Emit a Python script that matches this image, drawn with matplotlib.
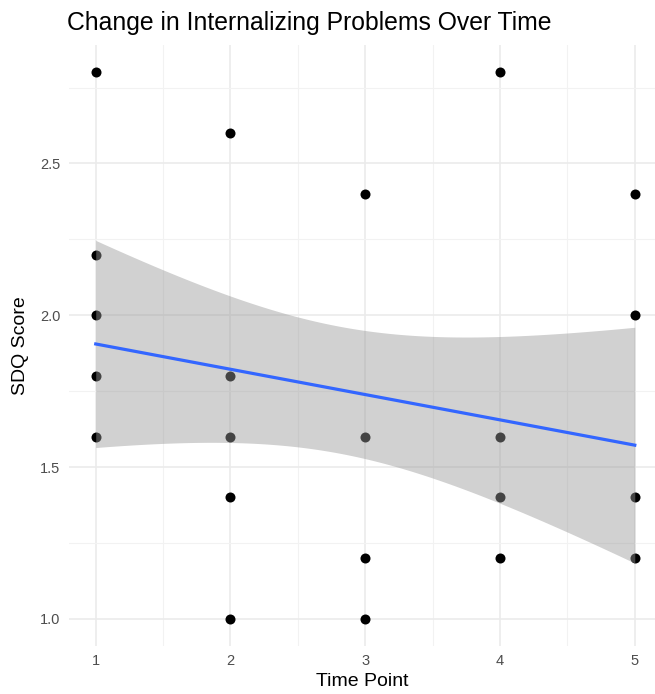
import numpy as np
import matplotlib.pyplot as plt
from matplotlib.ticker import MultipleLocator

plt.rcParams['font.family'] = ['Liberation Sans', 'DejaVu Sans']

# time point and SDQ score per observation (repeated values overlap in the plot)
time_point = [1, 1, 1, 1, 1, 1, 1,
              2, 2, 2, 2, 2, 2, 2, 2,
              3, 3, 3, 3, 3,
              4, 4, 4, 4, 4, 4,
              5, 5, 5, 5, 5]
sdq_score = [2.8, 2.8, 2.2, 2.0, 1.8, 1.6, 1.6,
             2.6, 2.6, 1.8, 1.6, 1.6, 1.4, 1.0, 1.0,
             2.4, 1.6, 1.2, 1.2, 1.0,
             2.8, 1.6, 1.4, 1.4, 1.2, 1.2,
             2.4, 2.0, 2.0, 1.4, 1.2]

x = np.array(time_point, dtype=float)
y = np.array(sdq_score)

# linear fit + 95% confidence band (like geom_smooth(method="lm"))
n = len(x)
slope, intercept = np.polyfit(x, y, 1)
resid = y - (intercept + slope * x)
s = np.sqrt(np.sum(resid ** 2) / (n - 2))
try:
    from scipy import stats
    tval = stats.t.ppf(0.975, n - 2)
except ImportError:
    tval = 2.045
xs = np.linspace(x.min(), x.max(), 100)
ys = intercept + slope * xs
se = s * np.sqrt(1 / n + (xs - x.mean()) ** 2 / np.sum((x - x.mean()) ** 2))

# identical points sit on top of each other; draw each position once
pts = np.unique(np.column_stack([x, y]), axis=0)

fig = plt.figure(figsize=(6.55, 6.94), dpi=100)
ax = fig.add_axes([0.105, 0.069, 0.895, 0.866])

ax.scatter(pts[:, 0], pts[:, 1], s=52, color='black', zorder=2, linewidths=0)
ax.fill_between(xs, ys - tval * se, ys + tval * se, color='#999999', alpha=0.45,
                linewidth=0, zorder=3)
ax.plot(xs, ys, color='#3366FF', linewidth=2.3, zorder=4)

ax.set_xlim(0.8, 5.15)
ax.set_ylim(0.91, 2.89)
ax.xaxis.set_major_locator(MultipleLocator(1))
ax.xaxis.set_minor_locator(MultipleLocator(0.5))
ax.yaxis.set_major_locator(MultipleLocator(0.5))
ax.yaxis.set_minor_locator(MultipleLocator(0.25))
ax.yaxis.set_major_formatter(plt.FormatStrFormatter('%.1f'))

ax.grid(which='major', color='#EBEBEB', linewidth=1.2, zorder=0)
ax.grid(which='minor', color='#F2F2F2', linewidth=0.8, zorder=0)
ax.set_axisbelow(True)
for sp in ax.spines.values():
    sp.set_visible(False)
ax.tick_params(which='both', length=0, labelsize=10.5, labelcolor='#4D4D4D', pad=6)

ax.set_xlabel('Time Point', fontsize=14, labelpad=3)
ax.set_ylabel('SDQ Score', fontsize=14, labelpad=8)
ax.set_title('Change in Internalizing Problems Over Time', fontsize=17.8, loc='left',
             pad=11, x=-0.003)

fig.savefig('out.png', dpi=100)
